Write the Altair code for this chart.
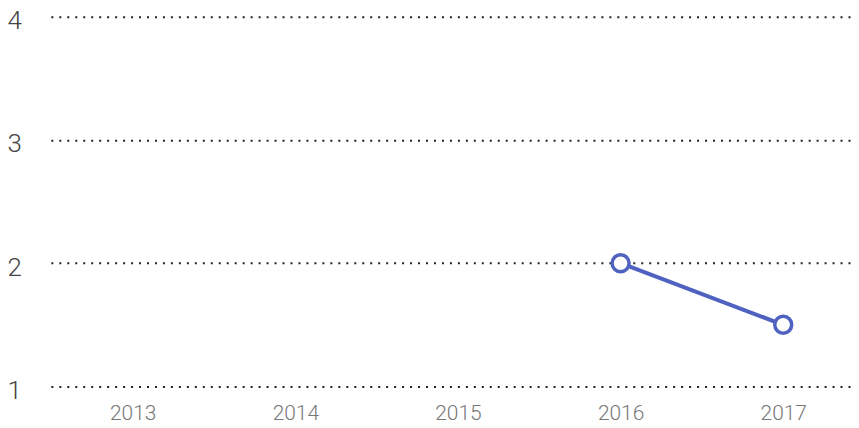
import altair as alt
import pandas as pd

years = ["2013", "2014", "2015", "2016", "2017"]
point_years = ["2016", "2017"]
point_values = [2.0, 1.5]
y_ticks = [1, 2, 3, 4]

df = pd.DataFrame({"year": point_years, "value": point_values})

x_enc = alt.X(
    "year:O",
    scale=alt.Scale(type="point", domain=years, padding=0.46, align=0.547),
    axis=alt.Axis(
        title=None, domain=False, ticks=False, labelAngle=0,
        labelFont="Roboto", labelFontWeight=300, labelFontSize=21,
        labelColor="#777777", labelPadding=16, grid=False,
    ),
)
y_enc = alt.Y(
    "value:Q",
    scale=alt.Scale(domain=[1, 4], nice=False, zero=False),
    axis=alt.Axis(
        title=None, domain=False, ticks=False, values=y_ticks,
        labelFont="Roboto", labelFontWeight=300, labelFontSize=26,
        labelColor="#444444", labelAlign="left", labelPadding=44,
        labelBaseline="alphabetic", labelOffset=12,
        grid=True, gridColor="#222222", gridDash=[2, 6], gridWidth=2,
    ),
)

line = alt.Chart(df).mark_line(color="#4f62c0", strokeWidth=4).encode(x=x_enc, y=y_enc)
points = alt.Chart(df).mark_point(
    shape="circle", filled=True, fill="white", stroke="#4f62c0",
    strokeWidth=3.5, size=290, opacity=1,
).encode(x=x_enc, y=y_enc)

chart = alt.layer(line, points).properties(
    width=803, height=371,
    autosize=alt.AutoSizeParams(type="none"),
    padding={"left": 43, "top": 8, "right": 0, "bottom": 45},
).configure_view(stroke=None)

chart.save("out.html", embed_options={"renderer": "svg", "actions": False})
